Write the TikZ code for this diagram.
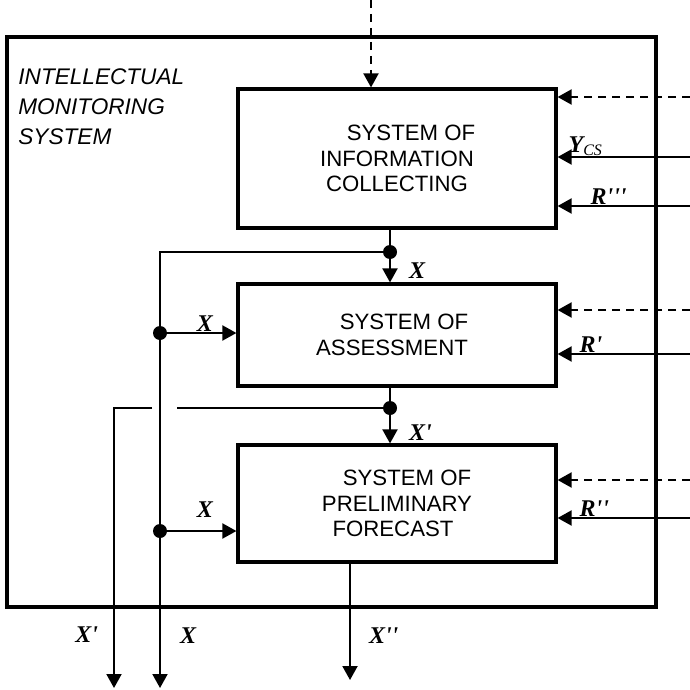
\documentclass[tikz,border=0pt]{standalone}
\usepackage{fontspec}
\setmainfont{Liberation Sans}
\newfontfamily\lblfont{Liberation Serif}
\usetikzlibrary{arrows.meta}

\begin{document}
\begin{tikzpicture}[
    x=0.5pt, y=-0.5pt,
    block/.style={draw, line width=1.6pt, minimum width=159pt, align=center, inner sep=0pt, font=\fontsize{11.1}{12.8}\selectfont},
    frame/.style={draw, line width=1.7pt, minimum width=324.5pt, minimum height=285pt, inner sep=0pt},
    conn/.style={line width=1pt},
    arr/.style={conn, -{Triangle[length=7pt, width=7.5pt]}},
    dsh/.style={arr, dash pattern=on 4pt off 3pt},
    lbl/.style={font=\lblfont\fontsize{12}{14}\selectfont\bfseries\itshape, inner sep=0pt, anchor=base},
    dot/.style={circle, fill, inner sep=0pt, minimum size=7pt}
]
\useasboundingbox (0,0) rectangle (690,690);

% Frame and title
\node[frame] (ims) at (331.5,322) {};
\node[anchor=north west, inner sep=0pt, align=left, font=\fontsize{11.3}{15}\selectfont\itshape] (title) at (18,68) {INTELLECTUAL\\MONITORING\\SYSTEM};

% Blocks
\node[block, minimum height=69.5pt] (collect) at (397,158.5) {\hspace*{14pt}SYSTEM OF\\INFORMATION\\COLLECTING};
\node[block, minimum height=51pt] (assess) at (397,335) {\hspace*{7pt}SYSTEM OF\\ASSESSMENT\hspace*{5pt}};
\node[block, minimum height=58.5pt] (fcast) at (397,503.5) {\hspace*{10pt}SYSTEM OF\\PRELIMINARY\\FORECAST\hspace*{4pt}};

% Outside inputs
\coordinate (topin) at (371,0);
\coordinate (d1) at (690,97);
\coordinate (ycs) at (690,157);
\coordinate (r3) at (690,206);
\coordinate (d2) at (690,310);
\coordinate (r1) at (690,354);
\coordinate (d3) at (690,480);
\coordinate (r2) at (690,518);

\draw[dsh] (topin) -- (topin |- collect.north);
\draw[dsh] (d1) -- (d1 -| collect.east);
\draw[arr] (ycs) -- (ycs -| collect.east) node[lbl, pos=1, anchor=base west, xshift=5pt, yshift=2.5pt] {Y\textsubscript{\mdseries CS}};
\draw[arr] (r3) -- (r3 -| collect.east) node[lbl, pos=1, anchor=base west, xshift=16pt, yshift=1pt] {R\textquotesingle\textquotesingle\textquotesingle};
\draw[dsh] (d2) -- (d2 -| assess.east);
\draw[arr] (r1) -- (r1 -| assess.east) node[lbl, pos=1, anchor=base west, xshift=10.5pt, yshift=1pt] {R\textquotesingle};
\draw[dsh] (d3) -- (d3 -| fcast.east);
\draw[arr] (r2) -- (r2 -| fcast.east) node[lbl, pos=1, anchor=base west, xshift=10.5pt, yshift=1pt] {R\textquotesingle\textquotesingle};

% X from collecting
\node[dot] (j1) at (390,252) {};
\coordinate (bus) at (160,252);
\coordinate (xout) at (160,688);
\draw[conn] (collect.south -| j1) -- (j1);
\draw[arr] (j1) -- (j1 |- assess.north) node[lbl, pos=1, anchor=base west, xshift=9pt, yshift=2pt] {X};
\draw[arr] (j1) -- (bus) -- (xout) node[lbl, pos=0.897, anchor=base west, xshift=9.5pt] {X};

\node[dot] (j2) at (160,333) {};
\draw[arr] (j2) -- (j2 -| assess.west) node[lbl, midway, xshift=1.5pt, yshift=1pt] {X};
\node[dot] (j3) at (160,531) {};
\draw[arr] (j3) -- (j3 -| fcast.west) node[lbl, midway, xshift=1.5pt, yshift=7pt] {X};

% X' from assessment
\node[dot] (j4) at (390,408) {};
\coordinate (gapr) at (177,408);
\coordinate (gapl) at (152,408);
\coordinate (xpturn) at (114,408);
\coordinate (xpout) at (114,688);
\draw[conn] (assess.south -| j4) -- (j4);
\draw[arr] (j4) -- (j4 |- fcast.north) node[lbl, pos=1, anchor=base west, xshift=9pt, yshift=1.5pt] {X\textquotesingle};
\draw[conn] (j4) -- (gapr);
\draw[arr] (gapl) -- (xpturn) -- (xpout) node[lbl, pos=0.839, anchor=base east, xshift=-7.5pt] {X\textquotesingle};

% X'' from forecast
\coordinate (xppout) at (350,680);
\draw[arr] (fcast.south -| xppout) -- (xppout) node[lbl, pos=0.686, anchor=base west, xshift=9pt] {X\textquotesingle\textquotesingle};
\end{tikzpicture}
\end{document}
